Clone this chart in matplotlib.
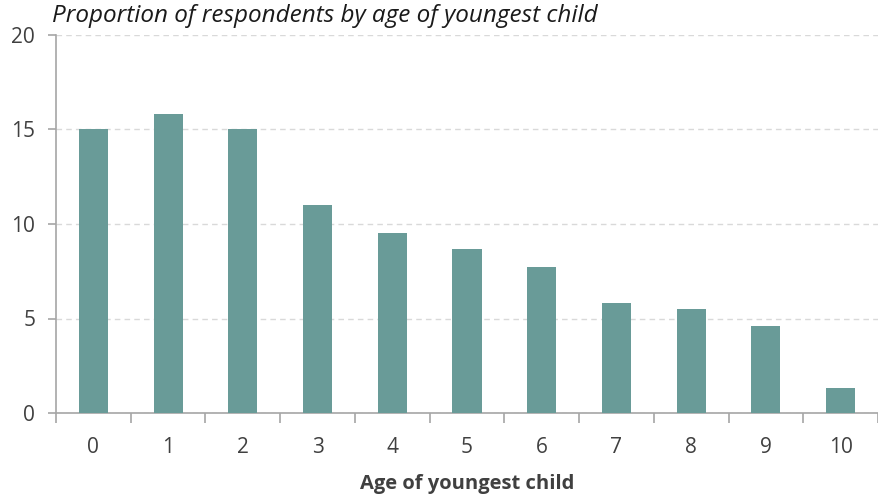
import matplotlib
matplotlib.use("Agg")
import matplotlib.pyplot as plt
import numpy as np

# data
ages = ['0', '1', '2', '3', '4', '5', '6', '7', '8', '9', '10']
share = [15.0, 15.8, 15.0, 11.0, 9.5, 8.7, 7.7, 5.8, 5.5, 4.6, 1.3]

bar_color = '#699b98'
text_color = '#404040'
axis_color = '#a6a6a6'

plt.rcParams['font.family'] = ['Open Sans', 'DejaVu Sans']

fig = plt.figure(figsize=(8.79, 4.96), dpi=100)
ax = fig.add_axes([56 / 879, 83 / 496, 822 / 879, 378 / 496])

x = np.arange(len(ages))
ax.bar(x, share, width=0.39, color=bar_color, zorder=3)

ax.set_xlim(-0.5, len(ages) - 0.5)
ax.set_ylim(0, 20)
ax.set_yticks([0, 5, 10, 15, 20])
ax.set_xticks(x)
ax.set_xticklabels(ages)
ax.set_xticks(np.arange(-0.5, len(ages), 1.0), minor=True)

ax.yaxis.grid(True, color='#d9d9d9', linestyle=(0, (4, 3)), linewidth=1, zorder=0)
for s in ['top', 'right']:
    ax.spines[s].set_visible(False)
for s in ['left', 'bottom']:
    ax.spines[s].set_color(axis_color)
    ax.spines[s].set_linewidth(1.2)

ax.tick_params(axis='x', which='major', length=0, pad=17, labelsize=15, labelcolor=text_color)
ax.tick_params(axis='x', which='minor', length=7, color=axis_color, width=1.2)
ax.tick_params(axis='y', length=6, color=axis_color, width=1.2, pad=9, labelsize=15, labelcolor=text_color)

ax.set_xlabel('Age of youngest child', fontsize=14.5, fontweight='bold', color=text_color, labelpad=12)
fig.text(52 / 879, 1 - 16 / 496, 'Proportion of respondents by age of youngest child',
         fontsize=17.5, style='italic', color='#1a1a1a', va='center', ha='left')

fig.savefig('out.png', dpi=100)
